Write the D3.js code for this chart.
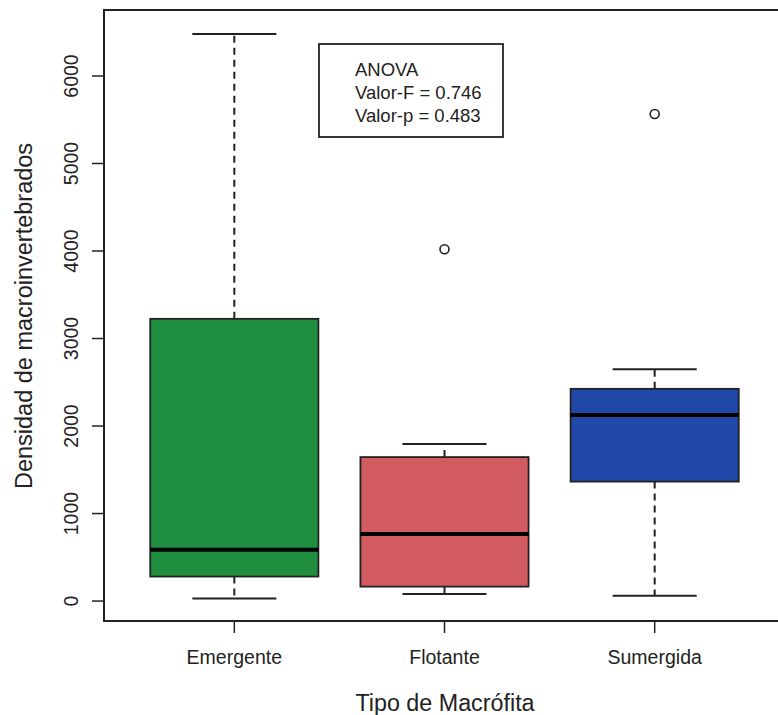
<!DOCTYPE html>
<html>
<head>
<meta charset="utf-8">
<script src="https://cdn.jsdelivr.net/npm/d3@7"></script>
<style>
  html, body { margin: 0; padding: 0; background: #fff; }
  svg { display: block; font-family: "Liberation Sans", Arial, sans-serif; }
</style>
</head>
<body>
<svg id="chart" width="778" height="715"></svg>
<script>
// Macrophyte types and their box statistics
const categories = ["Emergente", "Flotante", "Sumergida"];
const whiskerLow  = [30, 80, 60];
const q1          = [280, 165, 1365];
const medians     = [585, 765, 2125];
const q3          = [3225, 1645, 2425];
const whiskerHigh = [6480, 1795, 2650];
const outliers    = [[], [4020], [5565]];
const fills       = ["#1f8e3f", "#d25b60", "#1f48a8"];
const yTicks      = [0, 1000, 2000, 3000, 4000, 5000, 6000];
const anovaLines  = ["ANOVA", "Valor-F = 0.746", "Valor-p = 0.483"];

const svg = d3.select("#chart");
const plot = { left: 104, right: 785, top: 10, bottom: 621 };

// Index scale for box positions (R style: 0.38 .. 3.62)
const x = d3.scaleLinear().domain([0.38, 3.62]).range([plot.left, plot.right]);
const y = d3.scaleLinear().domain([-228, 6754]).range([plot.bottom, plot.top]);
const unit = x(1) - x(0);
const boxW = 0.8 * unit;
const capW = 0.4 * unit;

const stroke = "#222";

const g = svg.append("g");

categories.forEach((c, i) => {
  const cx = x(i + 1);
  // dashed whiskers
  g.append("line").attr("x1", cx).attr("x2", cx)
    .attr("y1", y(q3[i])).attr("y2", y(whiskerHigh[i]))
    .attr("stroke", stroke).attr("stroke-width", 2).attr("stroke-dasharray", "7,5");
  g.append("line").attr("x1", cx).attr("x2", cx)
    .attr("y1", y(q1[i])).attr("y2", y(whiskerLow[i]))
    .attr("stroke", stroke).attr("stroke-width", 2).attr("stroke-dasharray", "7,5");
  // staples
  [whiskerHigh[i], whiskerLow[i]].forEach(v => {
    g.append("line").attr("x1", cx - capW / 2).attr("x2", cx + capW / 2)
      .attr("y1", y(v)).attr("y2", y(v))
      .attr("stroke", stroke).attr("stroke-width", 2);
  });
  // box
  g.append("rect").attr("x", cx - boxW / 2).attr("width", boxW)
    .attr("y", y(q3[i])).attr("height", y(q1[i]) - y(q3[i]))
    .attr("fill", fills[i]).attr("stroke", stroke).attr("stroke-width", 1.8);
  // median
  g.append("line").attr("x1", cx - boxW / 2).attr("x2", cx + boxW / 2)
    .attr("y1", y(medians[i])).attr("y2", y(medians[i]))
    .attr("stroke", "#000").attr("stroke-width", 4);
  // outliers
  outliers[i].forEach(v => {
    g.append("circle").attr("cx", cx).attr("cy", y(v)).attr("r", 4.5)
      .attr("fill", "none").attr("stroke", stroke).attr("stroke-width", 1.6);
  });
});

// plot frame
svg.append("rect").attr("x", plot.left).attr("y", plot.top)
  .attr("width", plot.right - plot.left).attr("height", plot.bottom - plot.top)
  .attr("fill", "none").attr("stroke", "#222").attr("stroke-width", 2);

// y axis ticks and rotated labels
yTicks.forEach(t => {
  svg.append("line").attr("x1", plot.left - 12).attr("x2", plot.left)
    .attr("y1", y(t)).attr("y2", y(t)).attr("stroke", stroke).attr("stroke-width", 1.5);
  svg.append("text").attr("transform", `translate(78,${y(t)}) rotate(-90)`)
    .attr("text-anchor", "middle").attr("font-size", 19.5).attr("fill", "#222")
    .text(t);
});

// x axis ticks and labels
categories.forEach((c, i) => {
  const cx = x(i + 1);
  svg.append("line").attr("x1", cx).attr("x2", cx)
    .attr("y1", plot.bottom).attr("y2", plot.bottom + 12)
    .attr("stroke", stroke).attr("stroke-width", 1.5);
  svg.append("text").attr("x", cx).attr("y", 664).attr("text-anchor", "middle")
    .attr("font-size", 19.5).attr("fill", "#222").text(c);
});

// axis titles
svg.append("text").attr("x", 445).attr("y", 711).attr("text-anchor", "middle")
  .attr("font-size", 23.3).attr("fill", "#222").text("Tipo de Macrófita");
svg.append("text").attr("transform", "translate(32,316) rotate(-90)")
  .attr("text-anchor", "middle").attr("font-size", 23.5).attr("fill", "#222")
  .text("Densidad de macroinvertebrados");

// ANOVA legend box
svg.append("rect").attr("x", 319).attr("y", 44).attr("width", 184).attr("height", 93)
  .attr("fill", "#fff").attr("stroke", "#222").attr("stroke-width", 1.8);
anovaLines.forEach((s, i) => {
  svg.append("text").attr("x", 355).attr("y", 76 + i * 23.2)
    .attr("font-size", 18.5).attr("fill", "#222").text(s);
});
</script>
</body>
</html>
